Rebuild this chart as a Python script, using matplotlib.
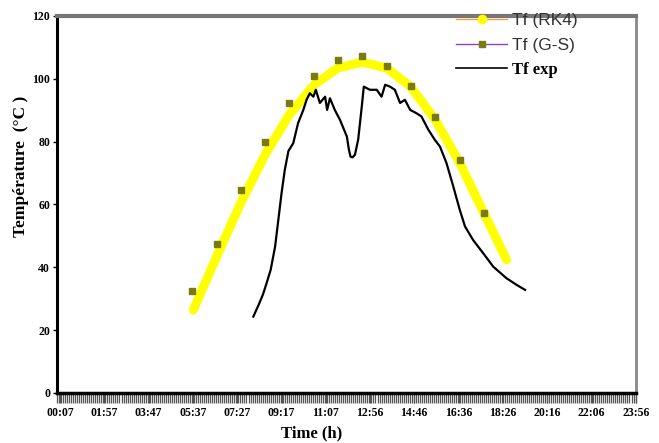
import numpy as np
import matplotlib.pyplot as plt
from matplotlib.lines import Line2D
from matplotlib.ticker import MultipleLocator


def to_min(t):
    h, m = t.split(':')
    return int(h) * 60 + int(m)


# Tf (RK4) - courbe lissée
rk4_time = ["05:38", "06:36", "07:36", "08:36", "09:36", "10:37", "11:36", "12:37",
            "13:38", "14:37", "15:38", "16:39", "17:39", "18:35"]
rk4_temp = [26.4, 43.4, 60.5, 75.8, 88.5, 98.0, 103.4, 105.3,
            103.4, 97.5, 87.0, 73.2, 57.2, 42.4]

# Tf (G-S) - points horaires
gs_time = ["05:36", "06:36", "07:36", "08:36", "09:36", "10:37", "11:36", "12:37",
           "13:38", "14:37", "15:38", "16:39", "17:39"]
gs_temp = [32.3, 47.5, 64.6, 79.8, 92.3, 101.0, 106.0, 107.4,
           104.2, 97.8, 87.7, 74.1, 57.4]

# Tf exp - mesures
exp_time = ["08:07", "08:20", "08:31", "08:40", "08:50", "09:01", "09:09", "09:17",
            "09:25", "09:34", "09:46", "09:58", "10:11", "10:19", "10:27", "10:36",
            "10:42", "10:52", "11:05", "11:10", "11:17", "11:29", "11:42", "11:59",
            "12:04", "12:08", "12:13", "12:19", "12:27", "12:36", "12:41", "12:56",
            "13:13", "13:25", "13:34", "13:46", "13:58", "14:11", "14:23", "14:36",
            "14:52", "15:04", "15:21", "15:37", "15:50", "16:06", "16:23", "16:39",
            "16:52", "17:12", "17:37", "18:02", "18:35", "19:00", "19:21"]
exp_temp = [24.3, 28.0, 31.4, 35.0, 39.2, 46.6, 55.1, 63.6,
            71.0, 77.0, 79.5, 85.9, 90.1, 93.3, 95.4, 94.3,
            96.5, 92.3, 94.3, 90.1, 93.8, 90.1, 86.9, 81.6,
            77.5, 75.2, 75.0, 75.8, 80.6, 91.2, 97.5, 96.5,
            96.5, 94.3, 98.1, 97.5, 96.5, 92.3, 93.3, 90.1,
            89.0, 88.0, 83.8, 80.6, 78.4, 73.2, 65.7, 58.3,
            53.0, 48.7, 44.5, 40.2, 36.5, 34.4, 32.8]

tick_labels = ["00:07", "01:57", "03:47", "05:37", "07:27", "09:17", "11:07",
               "12:56", "14:46", "16:36", "18:26", "20:16", "22:06", "23:56"]

rk4_x = [to_min(t) for t in rk4_time]
gs_x = [to_min(t) for t in gs_time]
exp_x = [to_min(t) for t in exp_time]

fig = plt.figure(figsize=(6.59, 4.43), dpi=100)
ax = fig.add_axes([0.0865, 0.113, 0.8785, 0.851])

ax.plot(rk4_x, rk4_temp, color='#ffff00', linewidth=6.5, solid_capstyle='round',
        solid_joinstyle='round', zorder=2)
ax.plot(gs_x, gs_temp, linestyle='none', marker='s', markersize=4.5,
        color='#7a7a10', zorder=3)
ax.plot(exp_x, exp_temp, color='black', linewidth=1.6, zorder=4)

ax.set_xlim(0, 1436)
ax.set_ylim(0, 120)
ax.set_yticks(np.arange(0, 121, 20))
ax.set_xticks([to_min(t) for t in tick_labels])
ax.set_xticklabels(tick_labels)
ax.xaxis.set_minor_locator(MultipleLocator(5))

serif = 'Liberation Serif'
for lab in ax.get_xticklabels() + ax.get_yticklabels():
    lab.set_fontfamily(serif)
    lab.set_fontweight('bold')
    lab.set_fontsize(8.5)

ax.tick_params(axis='x', which='both', length=7, width=0.9, color='#555555', pad=3)
ax.tick_params(axis='y', length=3, width=1, pad=2)

ax.spines['left'].set_linewidth(2.2)
ax.spines['bottom'].set_linewidth(2.5)
ax.spines['top'].set_linewidth(3)
ax.spines['top'].set_color('#777777')
ax.spines['right'].set_linewidth(2)
ax.spines['right'].set_color('#888888')

ax.set_ylabel("Température  (°C )", fontfamily=serif, fontweight='bold',
              fontsize=12.5)
ax.yaxis.set_label_coords(-0.048, 0.6)
ax.set_xlabel("Time (h)", fontfamily=serif, fontweight='bold', fontsize=12,
              labelpad=1)
ax.xaxis.set_label_coords(0.44, -0.085)

handles = [
    Line2D([], [], color='#f0a040', linewidth=1, marker='o', markersize=6,
           markerfacecolor='#ffff00', markeredgecolor='#ffff00'),
    Line2D([], [], color='#9040c0', linewidth=1, marker='s', markersize=5,
           markerfacecolor='#7a7a10', markeredgecolor='#7a7a10'),
    Line2D([], [], color='black', linewidth=1.2),
]
leg = ax.legend(handles, ["Tf (RK4)", "Tf (G-S)", "Tf exp"], loc='upper left',
                bbox_to_anchor=(0.663, 1.05), frameon=False, handlelength=2.9,
                labelspacing=0.55, handletextpad=0.3, fontsize=12.5)
texts = leg.get_texts()
for t in texts[:2]:
    t.set_fontfamily('Liberation Sans')
    t.set_color('#333333')
texts[2].set_fontfamily(serif)
texts[2].set_fontweight('bold')
texts[2].set_fontsize(12)

fig.savefig("out.png", dpi=100)
